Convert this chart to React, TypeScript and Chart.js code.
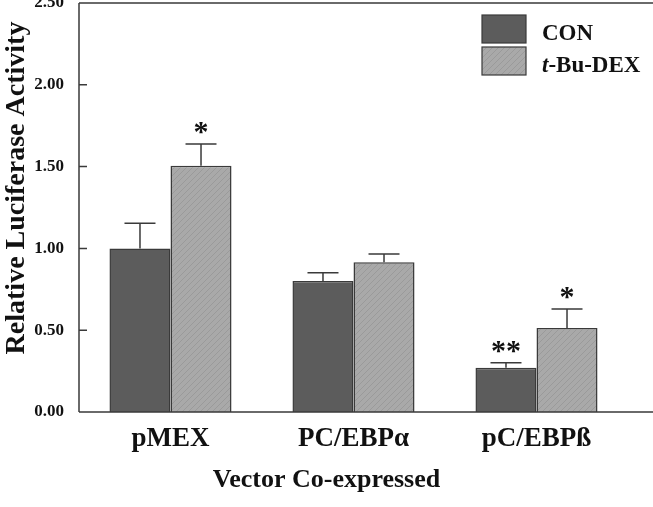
import React, { useEffect, useRef } from "react";
import { Chart, registerables } from "chart.js";

Chart.register(...registerables);

const categories = ["pMEX", "PC/EBPα", "pC/EBPß"];
const seriesNames = ["CON", "t-Bu-DEX"];
const conValues = [1.0, 0.8, 0.271];
const dexValues = [1.505, 0.915, 0.513];
const conErrors = [0.153, 0.051, 0.03];
const dexErrors = [0.133, 0.051, 0.117];
const conMarks = ["", "", "**"];
const dexMarks = ["*", "", "*"];
const yTicks = [0, 0.5, 1.0, 1.5, 2.0, 2.5];
const yTitle = "Relative Luciferase Activity";
const xTitle = "Vector Co-expressed";

const FONT = '"Liberation Serif", "Times New Roman", serif';

function makeHatch(): CanvasPattern | string {
  const c = document.createElement("canvas");
  c.width = 6;
  c.height = 6;
  const g = c.getContext("2d");
  if (!g) return "#a6a6a6";
  g.fillStyle = "#a9a9a9";
  g.fillRect(0, 0, 6, 6);
  g.strokeStyle = "#9a9a9a";
  g.lineWidth = 1;
  g.beginPath();
  g.moveTo(-1, 7);
  g.lineTo(7, -1);
  g.stroke();
  const p = g.createPattern(c, "repeat");
  return p || "#a6a6a6";
}

export default function App() {
  const ref = useRef<HTMLCanvasElement | null>(null);

  useEffect(() => {
    if (!ref.current) return;
    const hatch = makeHatch();
    const errs = [conErrors, dexErrors];
    const marks = [conMarks, dexMarks];

    const decor = {
      id: "decor",
      afterDatasetsDraw(chart: any) {
        const ctx = chart.ctx;
        const a = chart.chartArea;
        const ys = chart.scales.y;
        const W = chart.width;
        ctx.save();
        // frame
        ctx.strokeStyle = "#3a3a3a";
        ctx.lineWidth = 1.5;
        ctx.beginPath();
        ctx.moveTo(a.left, a.top);
        ctx.lineTo(W, a.top);
        ctx.moveTo(a.left, a.top);
        ctx.lineTo(a.left, a.bottom);
        ctx.moveTo(a.left, a.bottom);
        ctx.lineTo(W, a.bottom);
        // inward ticks
        yTicks.forEach((v) => {
          const y = ys.getPixelForValue(v);
          ctx.moveTo(a.left, y);
          ctx.lineTo(a.left + 8, y);
        });
        ctx.stroke();

        // error bars and significance marks
        chart.data.datasets.forEach((ds: any, di: number) => {
          const meta = chart.getDatasetMeta(di);
          meta.data.forEach((el: any, i: number) => {
            const v = ds.data[i];
            const top = ys.getPixelForValue(v + errs[di][i]);
            const x = el.x;
            ctx.strokeStyle = "#3a3a3a";
            ctx.lineWidth = 1.5;
            ctx.beginPath();
            ctx.moveTo(x, el.y);
            ctx.lineTo(x, top);
            ctx.moveTo(x - 15.5, top);
            ctx.lineTo(x + 15.5, top);
            ctx.stroke();
            const m = marks[di][i];
            if (m) {
              ctx.fillStyle = "#111";
              ctx.font = `bold 30px ${FONT}`;
              ctx.textAlign = "center";
              ctx.textBaseline = "alphabetic";
              ctx.fillText(m, x, top - 3);
            }
          });
        });

        // legend
        const boxes = [
          { y: 15, fill: chart.data.datasets[0].backgroundColor },
          { y: 47, fill: chart.data.datasets[1].backgroundColor },
        ];
        boxes.forEach((b) => {
          ctx.fillStyle = b.fill;
          ctx.fillRect(482, b.y, 44, 28);
          ctx.strokeStyle = "#3a3a3a";
          ctx.lineWidth = 1.2;
          ctx.strokeRect(482, b.y, 44, 28);
        });
        ctx.fillStyle = "#111";
        ctx.textAlign = "left";
        ctx.textBaseline = "alphabetic";
        ctx.font = `bold 23px ${FONT}`;
        ctx.fillText(seriesNames[0], 542, 40);
        const name2 = seriesNames[1];
        const first = name2.slice(0, 1);
        const rest = name2.slice(1);
        ctx.font = `italic bold 23px ${FONT}`;
        ctx.fillText(first, 542, 72);
        const w1 = ctx.measureText(first).width;
        ctx.font = `bold 23px ${FONT}`;
        ctx.fillText(rest, 542 + w1, 72);

        // axis titles
        ctx.font = `bold 26px ${FONT}`;
        ctx.textAlign = "center";
        ctx.textBaseline = "alphabetic";
        ctx.fillText(xTitle, W / 2, 487);
        ctx.font = `bold 28px ${FONT}`;
        ctx.save();
        ctx.translate(24, 188);
        ctx.rotate(-Math.PI / 2);
        ctx.fillText(yTitle, 0, 0);
        ctx.restore();
        ctx.restore();
      },
    };

    const chart = new Chart(ref.current, {
      type: "bar",
      data: {
        labels: categories,
        datasets: [
          {
            label: seriesNames[0],
            data: conValues,
            backgroundColor: "#5c5c5c",
            borderColor: "#3a3a3a",
            borderWidth: 1.5,
            barPercentage: 1,
            categoryPercentage: 0.667,
          },
          {
            label: seriesNames[1],
            data: dexValues,
            backgroundColor: hatch as any,
            borderColor: "#3a3a3a",
            borderWidth: 1.5,
            barPercentage: 1,
            categoryPercentage: 0.667,
          },
        ],
      },
      options: {
        animation: false,
        responsive: false,
        maintainAspectRatio: false,
        layout: { padding: { top: 3, right: 25, left: 0, bottom: 0 } },
        plugins: {
          legend: { display: false },
          tooltip: { enabled: false },
        },
        scales: {
          x: {
            grid: { display: false, drawTicks: false },
            border: { display: false },
            ticks: {
              font: { family: FONT, size: 27, weight: "bold" },
              color: "#111",
              padding: 11,
              maxRotation: 0,
            },
            afterFit: (s: any) => {
              s.height = 95;
              s.paddingLeft = 0;
              s.paddingRight = 0;
            },
          },
          y: {
            min: 0,
            max: 2.5,
            grid: { display: false, drawTicks: false },
            border: { display: false },
            ticks: {
              stepSize: 0.5,
              callback: (v: any) => Number(v).toFixed(2),
              font: { family: FONT, size: 17, weight: "bold" },
              color: "#111",
              padding: 15,
            },
            afterFit: (s: any) => {
              s.width = 79;
              s.paddingTop = 0;
              s.paddingBottom = 0;
            },
          },
        },
      },
      plugins: [decor],
    });
    return () => chart.destroy();
  }, []);

  return (
    <div style={{ position: "fixed", left: 0, top: 0, width: 653, height: 507, background: "#fff" }}>
      <canvas ref={ref} width={653} height={507} style={{ display: "block", width: 653, height: 507 }} />
    </div>
  );
}
